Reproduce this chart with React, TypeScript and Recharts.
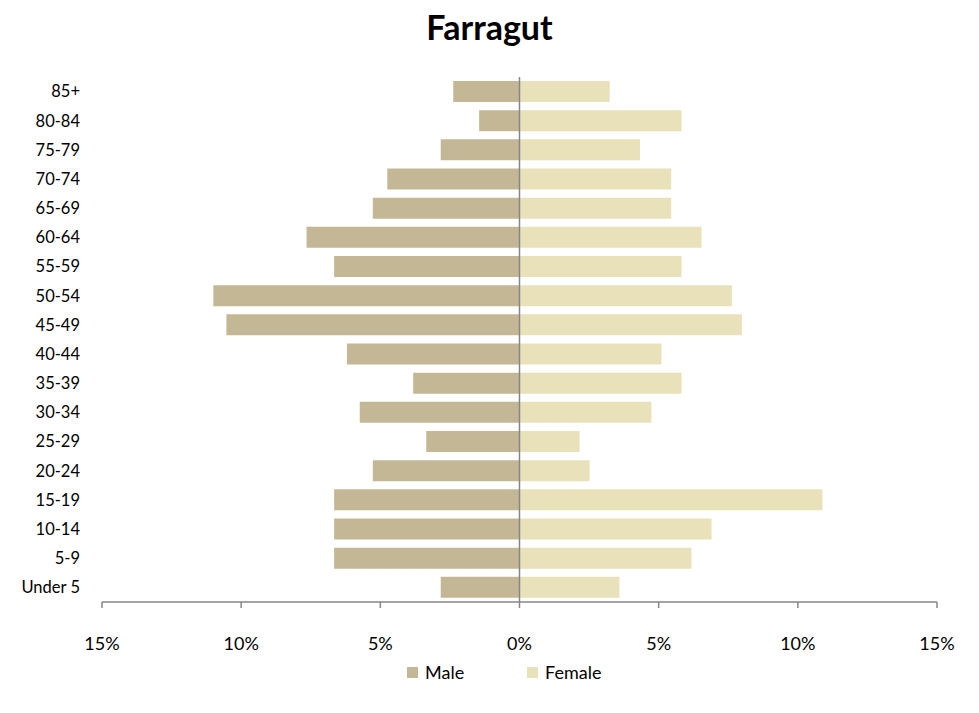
import React from 'react';
import { BarChart, Bar, XAxis, YAxis, Legend, ReferenceLine } from 'recharts';

const ageGroups = [
  '85+', '80-84', '75-79', '70-74', '65-69', '60-64', '55-59', '50-54', '45-49',
  '40-44', '35-39', '30-34', '25-29', '20-24', '15-19', '10-14', '5-9', 'Under 5',
];

// percent of population
const maleShare = [
  2.38, 1.45, 2.83, 4.75, 5.27, 7.65, 6.66, 11.0, 10.53,
  6.2, 3.82, 5.74, 3.35, 5.27, 6.66, 6.66, 6.66, 2.83,
];
const femaleShare = [
  3.24, 5.82, 4.33, 5.45, 5.45, 6.54, 5.82, 7.63, 7.99,
  5.1, 5.82, 4.74, 2.16, 2.52, 10.88, 6.9, 6.18, 3.59,
];

const xTicks = [-15, -10, -5, 0, 5, 10, 15];

const MALE_COLOR = '#C4B796';
const FEMALE_COLOR = '#E8E1B9';
const AXIS_COLOR = '#868686';
const FONT = 'Lato, "Open Sans", sans-serif';

const data = ageGroups.map((age, i) => ({
  age,
  male: -maleShare[i],
  female: femaleShare[i],
}));

const legendOrder = ['Male', 'Female'];

const renderLegend = (props: any) => {
  const items = [...props.payload].sort(
    (a: any, b: any) => legendOrder.indexOf(a.value) - legendOrder.indexOf(b.value)
  );
  return (
    <div style={{ display: 'flex', paddingLeft: 407, fontFamily: FONT, fontSize: 18 }}>
      {items.map((entry: any) => (
        <div key={entry.value} style={{ display: 'flex', alignItems: 'center', width: 120 }}>
          <span style={{ width: 11, height: 11, background: entry.color, marginRight: 7 }} />
          <span style={{ color: '#000' }}>{entry.value}</span>
        </div>
      ))}
    </div>
  );
};

export default function App() {
  return (
    <div style={{ position: 'absolute', left: 0, top: 0, width: 979, height: 713, background: '#fff' }}>
      <div
        style={{
          position: 'absolute',
          top: 6,
          width: 979,
          textAlign: 'center',
          fontFamily: FONT,
          fontWeight: 700,
          fontSize: 34,
          color: '#000',
        }}
      >
        Farragut
      </div>
      <BarChart
        width={979}
        height={713}
        data={data}
        layout="vertical"
        stackOffset="sign"
        barCategoryGap={4}
        margin={{ top: 77, right: 42, bottom: 22, left: 0 }}
      >
        <XAxis
          type="number"
          domain={[-15, 15]}
          ticks={xTicks}
          allowDataOverflow
          stroke={AXIS_COLOR}
          strokeWidth={1.5}
          tickSize={6}
          tickMargin={29}
          height={59}
          tick={{ fill: '#000', fontSize: 18, fontFamily: FONT }}
          tickFormatter={(v: number) => `${Math.abs(v)}%`}
        />
        <YAxis
          type="category"
          dataKey="age"
          width={102}
          axisLine={false}
          tickLine={false}
          tickSize={0}
          tickMargin={22}
          tick={{ fill: '#000', fontSize: 16.5, fontFamily: FONT }}
        />
        <Legend verticalAlign="bottom" height={30} content={renderLegend} />
        <Bar dataKey="male" name="Male" stackId="pop" fill={MALE_COLOR} isAnimationActive={false} />
        <Bar dataKey="female" name="Female" stackId="pop" fill={FEMALE_COLOR} isAnimationActive={false} />
        <ReferenceLine x={0} stroke={AXIS_COLOR} strokeWidth={1.5} />
      </BarChart>
    </div>
  );
}
